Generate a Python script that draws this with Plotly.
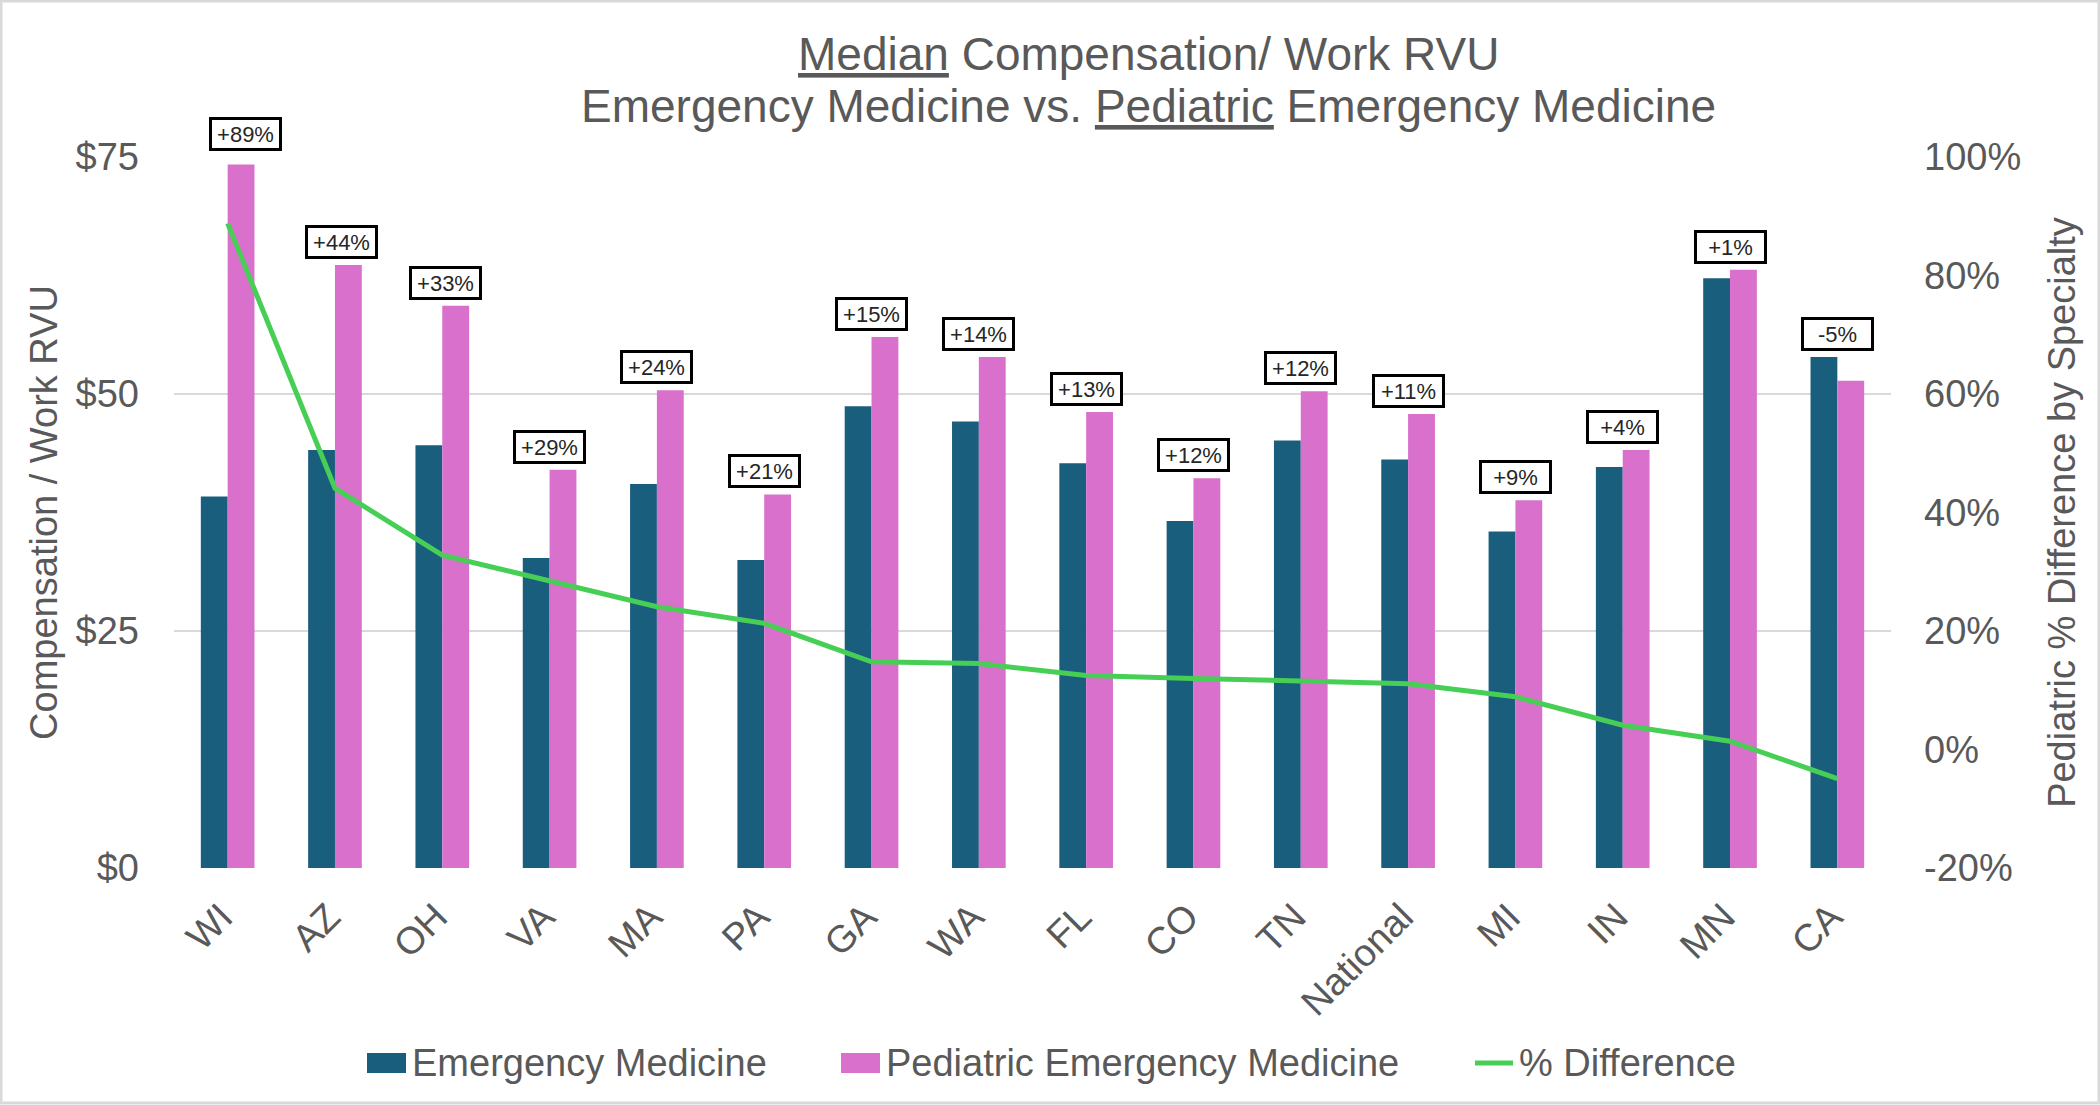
import plotly.graph_objects as go

categories = ["WI", "AZ", "OH", "VA", "MA", "PA", "GA", "WA", "FL", "CO", "TN",
              "National", "MI", "IN", "MN", "CA"]
em_values = [39.2, 44.1, 44.6, 32.7, 40.5, 32.5, 48.7, 47.1, 42.7, 36.6, 45.1,
             43.1, 35.5, 42.3, 62.2, 53.9]
pem_values = [74.2, 63.6, 59.3, 42.0, 50.4, 39.4, 56.0, 53.9, 48.1, 41.1, 50.3,
              47.9, 38.8, 44.1, 63.1, 51.4]
pct_diff = [88.8, 44.1, 32.8, 28.5, 24.1, 21.3, 14.8, 14.5, 12.5, 12.0, 11.5,
            11.1, 8.9, 4.1, 1.4, -4.9]
pct_labels = ["+89%", "+44%", "+33%", "+29%", "+24%", "+21%", "+15%", "+14%",
              "+13%", "+12%", "+12%", "+11%", "+9%", "+4%", "+1%", "-5%"]
series_names = ["Emergency Medicine", "Pediatric Emergency Medicine", "% Difference"]
left_ticks = [0, 25, 50, 75]
left_tick_text = ["$0", "$25", "$50", "$75"]
right_ticks = [-20, 0, 20, 40, 60, 80, 100]
right_tick_text = ["-20%", "0%", "20%", "40%", "60%", "80%", "100%"]

BLUE = "#1A5E7E"
PINK = "#D870CC"
GREEN = "#47CF55"
GRAY = "#595959"
FONT = "Liberation Sans, Arial, sans-serif"

W, H = 2100, 1105
ML, MR, MT, MB = 174, 209, 157, 237
PW, PH = W - ML - MR, H - MT - MB


def px(x_px):
    return (x_px - ML) / PW


def py(y_px):
    return (H - MB - y_px) / PH


fig = go.Figure()
fig.add_trace(go.Bar(x=categories, y=em_values, name=series_names[0],
                     marker=dict(color=BLUE, line=dict(width=0))))
fig.add_trace(go.Bar(x=categories, y=pem_values, name=series_names[1],
                     marker=dict(color=PINK, line=dict(width=0))))
fig.add_trace(go.Scatter(x=categories, y=pct_diff, name=series_names[2], yaxis="y2",
                         mode="lines", line=dict(color=GREEN, width=5)))

annotations = []
for i, (c, a, b, lab) in enumerate(zip(categories, em_values, pem_values, pct_labels)):
    ys, xs = 6, 0
    if i == 0:
        ys, xs = 14, 18
    elif i == 1:
        xs = 7
    elif i == 2:
        xs = 3
    annotations.append(dict(
        x=c, y=max(a, b), xref="x", yref="y", text=lab, showarrow=False,
        yanchor="bottom", xanchor="center", yshift=ys, xshift=xs,
        font=dict(family=FONT, size=22, color="#262626"),
        width=63, height=24, align="center", valign="middle",
        bgcolor="white", bordercolor="black", borderwidth=3, borderpad=2,
    ))

# Title lines (tight line spacing like the original)
annotations.append(dict(
    x=px(1148), y=py(71), xref="paper", yref="paper", yanchor="bottom",
    xanchor="center", showarrow=False,
    text="<u>Median</u> Compensation/ Work RVU",
    font=dict(family=FONT, size=46, color=GRAY), yshift=-11))
annotations.append(dict(
    x=px(1148), y=py(123), xref="paper", yref="paper", yanchor="bottom",
    xanchor="center", showarrow=False,
    text="Emergency Medicine vs. <u>Pediatric</u> Emergency Medicine",
    font=dict(family=FONT, size=46, color=GRAY), yshift=-11))

# Legend drawn manually (Excel-style wide swatches)
LEG_Y = 1063
legend_text_x = [410, 884, 1517]
for name, tx in zip(series_names, legend_text_x):
    annotations.append(dict(
        x=px(tx), y=py(LEG_Y), xref="paper", yref="paper", xanchor="left",
        yanchor="middle", showarrow=False, text=name, yshift=0,
        font=dict(family=FONT, size=38, color=GRAY)))

shapes = [
    dict(type="rect", xref="paper", yref="paper",
         x0=px(1), x1=px(W - 1), y0=py(H - 2), y1=py(1),
         line=dict(color="#D9D9D9", width=3), fillcolor="rgba(0,0,0,0)",
         layer="below"),
    dict(type="rect", xref="paper", yref="paper",
         x0=px(367), x1=px(406), y0=py(LEG_Y + 10), y1=py(LEG_Y - 10),
         line=dict(width=0), fillcolor=BLUE),
    dict(type="rect", xref="paper", yref="paper",
         x0=px(841), x1=px(880), y0=py(LEG_Y + 10), y1=py(LEG_Y - 10),
         line=dict(width=0), fillcolor=PINK),
    dict(type="line", xref="paper", yref="paper",
         x0=px(1475), x1=px(1513), y0=py(LEG_Y), y1=py(LEG_Y),
         line=dict(color=GREEN, width=5)),
]

fig.update_layout(
    width=W, height=H,
    margin=dict(l=ML, r=MR, t=MT, b=MB, pad=0),
    paper_bgcolor="white", plot_bgcolor="white",
    barmode="group", bargap=0.5, bargroupgap=0,
    font=dict(family=FONT, size=38, color=GRAY),
    showlegend=False,
    annotations=annotations,
    shapes=shapes,
    xaxis=dict(type="category", tickangle=-45, showgrid=False, showline=False,
               ticks="", automargin=False, ticklabelshift=-6, ticklabelstandoff=18,
               tickfont=dict(family=FONT, size=38, color=GRAY)),
    yaxis=dict(range=[0, 75], tickvals=left_ticks, ticktext=left_tick_text,
               showgrid=True, gridcolor="#D9D9D9", gridwidth=2, zeroline=False,
               showline=False, ticks="", ticklabelstandoff=34, automargin=False,
               tickfont=dict(family=FONT, size=38, color=GRAY),
               title=dict(text="Compensation / Work RVU", standoff=6,
                          font=dict(family=FONT, size=38, color=GRAY))),
    yaxis2=dict(range=[-20, 100], tickvals=right_ticks, ticktext=right_tick_text,
                overlaying="y", side="right", showgrid=False, zeroline=False,
                showline=False, ticks="", ticklabelstandoff=32, automargin=False,
                tickfont=dict(family=FONT, size=38, color=GRAY),
                title=dict(text="Pediatric % Difference by Specialty", standoff=28,
                           font=dict(family=FONT, size=38, color=GRAY))),
)

fig.write_html(
    "out.html",
    config={"displayModeBar": False, "staticPlot": True},
    post_script="document.body.style.margin='0';document.body.style.padding='0';"
                "document.documentElement.style.overflow='hidden';",
)
